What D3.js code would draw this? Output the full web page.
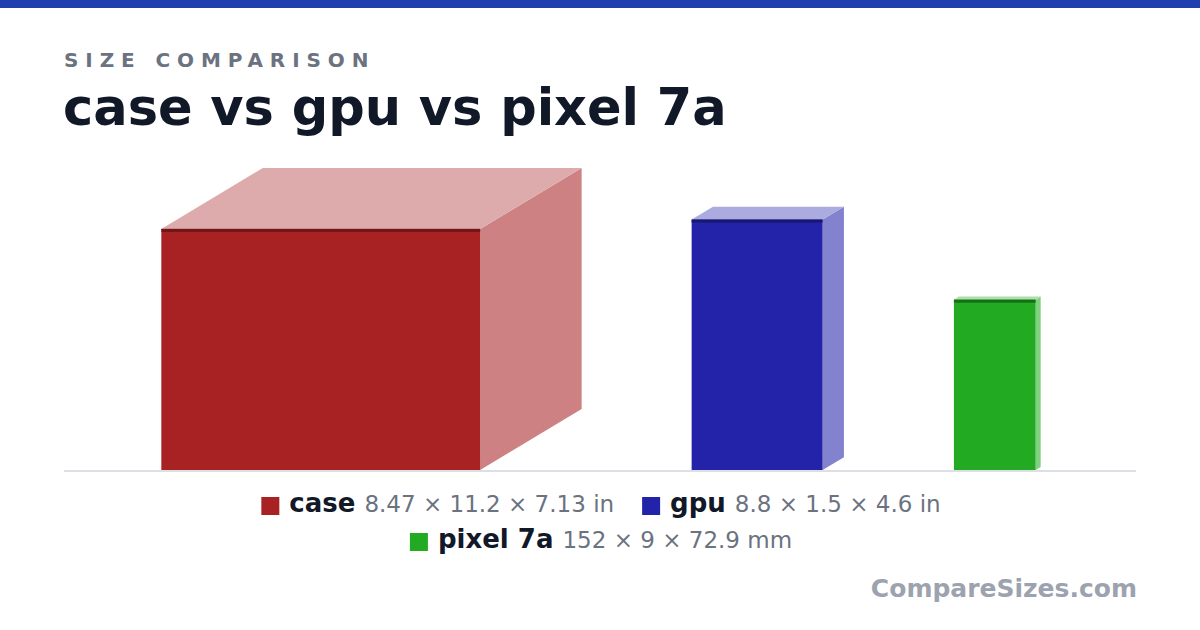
<!DOCTYPE html>
<html>
<head>
<meta charset="utf-8">
<script src="https://cdn.jsdelivr.net/npm/d3@7"></script>
<style>
  html, body { margin: 0; padding: 0; background: #fff; }
  svg { display: block; font-family: "DejaVu Sans", sans-serif; }
</style>
</head>
<body>
<script>
// items and their sizes (front height, front width, depth) in inches
const names = ["case", "gpu", "pixel 7a"];
const dimLabels = ["8.47 × 11.2 × 7.13 in", "8.8 × 1.5 × 4.6 in", "152 × 9 × 72.9 mm"];
const heights = [8.47, 8.8, 152 / 25.4];
const widths = [11.2, 4.6, 72.9 / 25.4];
const depths = [7.13, 1.5, 9 / 25.4];
const colors = ["#a82224", "#2323aa", "#22aa22"];
const legendRows = [[0, 1], [2]];

function createChart() {
  let W = 1200, H = 630;
  let baseY = 470, topY = 168, gap = 110;
  let dxF = 0.5, dyF = 0.3;

  let svg = d3.select("body").append("svg")
    .attr("width", W)
    .attr("height", H);

  // top strip
  svg.append("rect")
    .attr("x", 0).attr("y", 0)
    .attr("width", W).attr("height", 8)
    .attr("fill", "#1e40af");

  svg.append("text")
    .attr("x", 64).attr("y", 67)
    .attr("font-size", 20)
    .attr("font-weight", "bold")
    .attr("letter-spacing", 6.9)
    .attr("fill", "#6b7280")
    .text("SIZE COMPARISON");

  svg.append("text")
    .attr("x", 63).attr("y", 125)
    .attr("font-size", 51)
    .attr("font-weight", "bold")
    .attr("fill", "#111827")
    .text("case vs gpu vs pixel 7a");

  let result = [];
  for (let i = 0; i < names.length; i++) {
    result.push({
      name: names[i],
      h: heights[i], w: widths[i], d: depths[i],
      color: colors[i], label: dimLabels[i]
    });
  }

  // scale so the tallest box (with its top face) fits between topY and baseY
  let maxH = d3.max(result, function(d) { return d.h + d.d * dyF; });
  let s = d3.scaleLinear()
    .domain([0, maxH])
    .range([0, baseY - topY]);

  let total = d3.sum(result, function(d) { return s(d.w) + s(d.d) * dxF; }) + gap * (result.length - 1);
  let cx = W / 2 + 1 - total / 2;
  result.forEach(function(d) {
    d.x = cx;
    d.pw = s(d.w);
    d.ph = s(d.h);
    d.dx = s(d.d) * dxF;
    d.dy = s(d.d) * dyF;
    cx += d.pw + d.dx + gap;
  });

  // baseline
  svg.append("line")
    .attr("x1", 64).attr("x2", 1136)
    .attr("y1", 471).attr("y2", 471)
    .attr("stroke", "#d1d5db")
    .attr("stroke-width", 1.5);

  let boxes = svg.selectAll(".box")
    .data(result)
    .enter().append("g")
    .attr("class", "box");

  // side face
  boxes.append("path")
    .attr("fill", function(d) { return d3.interpolateRgb(d.color, "#fff")(0.43); })
    .attr("d", function(d) {
      let x1 = d.x + d.pw, yt = baseY - d.ph;
      return "M" + x1 + "," + baseY +
        "L" + (x1 + d.dx) + "," + (baseY - d.dy) +
        "L" + (x1 + d.dx) + "," + (yt - d.dy) +
        "L" + x1 + "," + yt + "Z";
    });

  // top face
  boxes.append("path")
    .attr("fill", function(d) { return d3.interpolateRgb(d.color, "#fff")(0.62); })
    .attr("d", function(d) {
      let yt = baseY - d.ph;
      return "M" + d.x + "," + yt +
        "L" + (d.x + d.dx) + "," + (yt - d.dy) +
        "L" + (d.x + d.pw + d.dx) + "," + (yt - d.dy) +
        "L" + (d.x + d.pw) + "," + yt + "Z";
    });

  // front face
  boxes.append("rect")
    .attr("x", function(d) { return d.x; })
    .attr("y", function(d) { return baseY - d.ph; })
    .attr("width", function(d) { return d.pw; })
    .attr("height", function(d) { return d.ph; })
    .attr("fill", function(d) { return d.color; });

  // dark edge on top of the front
  boxes.append("rect")
    .attr("x", function(d) { return d.x; })
    .attr("y", function(d) { return baseY - d.ph; })
    .attr("width", function(d) { return d.pw; })
    .attr("height", 3)
    .attr("fill", function(d) { return d3.interpolateRgb(d.color, "#000")(0.35); });

  // legend
  let rowY = [512, 548];
  legendRows.forEach(function(row, r) {
    let g = svg.append("g");
    let x = 0;
    row.forEach(function(i, k) {
      let d = result[i];
      let item = g.append("g").attr("transform", "translate(" + x + ",0)");
      item.append("rect")
        .attr("x", 0).attr("y", -15)
        .attr("width", 18).attr("height", 18)
        .attr("fill", d.color);
      let t = item.append("text")
        .attr("x", 28).attr("y", 0);
      t.append("tspan")
        .attr("font-size", 26)
        .attr("font-weight", "bold")
        .attr("fill", "#111827")
        .text(d.name);
      t.append("tspan")
        .attr("font-size", 23)
        .attr("fill", "#6b7280")
        .attr("dx", 9)
        .text(d.label);
      let bw = 28 + t.node().getComputedTextLength() + 9;
      x += bw + (k < row.length - 1 ? 28 : 0);
    });
    g.attr("transform", "translate(" + (601 - x / 2) + "," + rowY[r] + ")");
  });

  svg.append("text")
    .attr("x", 1137).attr("y", 597)
    .attr("text-anchor", "end")
    .attr("font-size", 25)
    .attr("font-weight", "bold")
    .attr("fill", "#9ca3af")
    .text("CompareSizes.com");
}

createChart();
</script>
</body>
</html>
